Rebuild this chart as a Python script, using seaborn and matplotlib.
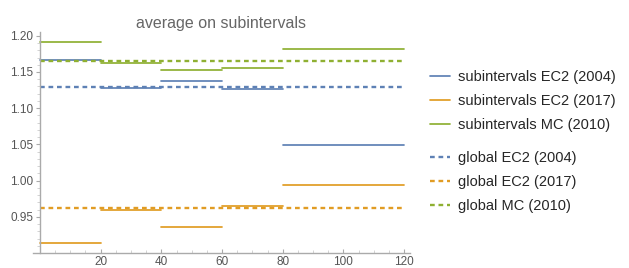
import numpy as np
import pandas as pd
import matplotlib
matplotlib.use("Agg")
import matplotlib.pyplot as plt
from matplotlib.lines import Line2D
from matplotlib.ticker import MultipleLocator
import seaborn as sns

# Subinterval boundaries and averages
bounds = [0, 20, 40, 60, 80, 120]
ec2_2004 = [1.166, 1.128, 1.138, 1.127, 1.049]
ec2_2017 = [0.914, 0.959, 0.936, 0.965, 0.994]
mc_2010 = [1.191, 1.163, 1.153, 1.155, 1.182]

# Global averages
global_ec2_2004 = 1.1287
global_ec2_2017 = 0.9615
global_mc_2010 = 1.1655

series_names = ["EC2 (2004)", "EC2 (2017)", "MC (2010)"]
colors = ["#5E81B5", "#E19C24", "#8FB032"]
DASH = [2.0, 1.6]

sns.set_theme(style="white")
plt.rcParams["font.family"] = ["Liberation Sans", "DejaVu Sans"]

fig = plt.figure(figsize=(6.29, 2.68), dpi=100)
ax = fig.add_axes([0.052, 0.056, 0.600, 0.824])


def segments(values):
    rows = []
    for i, v in enumerate(values):
        rows.append({"seg": i, "x": bounds[i], "y": v})
        rows.append({"seg": i, "x": bounds[i + 1], "y": v})
    return pd.DataFrame(rows)


for vals, col in zip([ec2_2004, ec2_2017, mc_2010], colors):
    sns.lineplot(data=segments(vals), x="x", y="y", units="seg", estimator=None,
                 color=col, linewidth=1.25, ax=ax, legend=False)

for g, col in zip([global_ec2_2004, global_ec2_2017, global_mc_2010], colors):
    gdf = pd.DataFrame({"x": [bounds[0], bounds[-1]], "y": [g, g]})
    sns.lineplot(data=gdf, x="x", y="y", color=col, linewidth=1.7,
                 ax=ax, legend=False)
    ax.lines[-1].set_dashes(DASH)

ax.set_xlim(-2.4, 122)
ax.set_ylim(0.90, 1.205)
ax.set_xlabel("")
ax.set_ylabel("")

ax.spines["top"].set_visible(False)
ax.spines["right"].set_visible(False)
ax.spines["left"].set_position(("data", 0))
for s in ["left", "bottom"]:
    ax.spines[s].set_color("#aaaaaa")
    ax.spines[s].set_linewidth(1.0)

ax.set_xticks([20, 40, 60, 80, 100, 120])
ax.set_yticks([0.95, 1.00, 1.05, 1.10, 1.15, 1.20])
ax.set_yticklabels(["0.95", "1.00", "1.05", "1.10", "1.15", "1.20"])
ax.xaxis.set_minor_locator(MultipleLocator(5))
ax.yaxis.set_minor_locator(MultipleLocator(0.01))
ax.tick_params(axis="both", which="major", labelsize=8.5, labelcolor="#555555",
               color="#aaaaaa", length=3, width=0.8, pad=2)
ax.tick_params(axis="both", which="minor", color="#cccccc", length=2, width=0.6)
ax.tick_params(axis="x", which="both", direction="in", bottom=True)
ax.tick_params(axis="y", which="both", direction="out", left=True)

ax.set_title("average on subintervals", fontsize=11.5, color="#666666", pad=3)

legend_kw = dict(loc="upper left", frameon=False, fontsize=10.5, labelspacing=0.7,
                 handlelength=1.4, handletextpad=0.55, borderaxespad=0, borderpad=0)
h1 = [Line2D([], [], color=c, linewidth=1.25) for c in colors]
h2 = [Line2D([], [], color=c, linewidth=1.7, dashes=DASH) for c in colors]
fig.legend(h1, ["subintervals " + n for n in series_names],
           bbox_to_anchor=(0.683, 0.74), **legend_kw)
fig.legend(h2, ["global " + n for n in series_names],
           bbox_to_anchor=(0.683, 0.438), **legend_kw)

fig.savefig("out.png", dpi=100)
